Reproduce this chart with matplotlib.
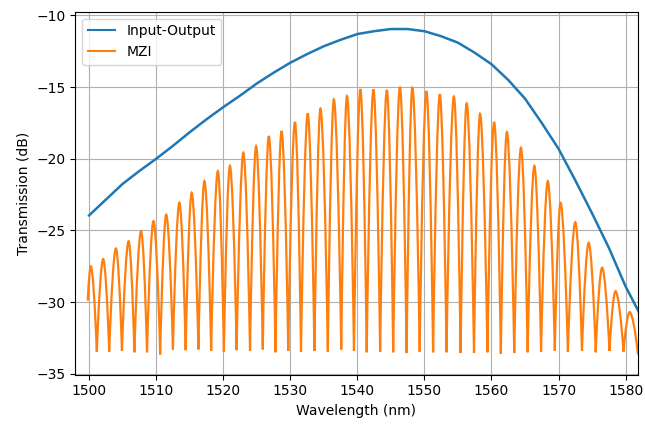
import matplotlib
matplotlib.use("Agg")
import matplotlib.pyplot as plt
from matplotlib.path import Path
from matplotlib.patches import PathPatch
from matplotlib.lines import Line2D

# ---- Input-Output (grating coupler) trace ----
io_wl = [1500, 1502.5, 1505, 1507.5, 1510, 1512.5, 1515, 1517.5, 1520, 1522.5,
         1525, 1527.5, 1530, 1532.5, 1535, 1537.5, 1540, 1542.5, 1545, 1547.5,
         1550, 1552.5, 1555, 1557.5, 1560, 1562.5, 1565, 1567.5, 1570, 1572.5,
         1575, 1577.5, 1580, 1582]
io_db = [-23.95, -22.85, -21.75, -20.85, -20.0, -19.1, -18.15, -17.25, -16.4, -15.6,
         -14.75, -14.0, -13.3, -12.7, -12.15, -11.7, -11.3, -11.1, -10.95, -10.95,
         -11.1, -11.45, -11.9, -12.6, -13.4, -14.5, -15.8, -17.5, -19.3, -21.5,
         -23.8, -26.2, -28.9, -30.7]

# ---- MZI trace: start point, fringe peaks and troughs ----
mzi_start_wl = 1499.8
mzi_start_db = -29.9
peak_wl = [1500.25, 1502.1, 1504.0, 1505.9, 1507.75, 1509.6, 1511.5, 1513.46, 1515.3,
           1517.2, 1519.2, 1521.0, 1523.0, 1524.9, 1526.8, 1528.7, 1530.7, 1532.6,
           1534.5, 1536.5, 1538.45, 1540.45, 1542.4, 1544.4, 1546.35, 1548.2, 1550.3,
           1552.3, 1554.4, 1556.3, 1558.3, 1560.4, 1562.3, 1564.4, 1566.4, 1568.4,
           1570.3, 1572.5, 1574.5, 1576.5, 1578.5, 1580.6]
peak_db = [-27.5, -27.0, -26.26, -25.75, -25.05, -24.35, -23.9, -23.07, -22.37,
           -21.56, -20.87, -20.5, -19.58, -19.12, -18.42, -18.07, -17.44, -16.84,
           -16.5, -15.86, -15.63, -15.14, -15.16, -15.2, -14.98, -15.05, -15.28,
           -15.5, -15.66, -16.14, -16.86, -17.44, -18.14, -19.24, -20.5, -21.56,
           -23.07, -24.42, -25.86, -27.6, -29.24, -30.7]
trough_wl = [1501.15, 1503.0, 1504.9, 1506.75, 1508.64, 1510.6, 1512.5, 1514.4, 1516.3,
             1518.2, 1520.1, 1522.0, 1524.0, 1525.9, 1527.8, 1529.7, 1531.6, 1533.6,
             1535.6, 1537.6, 1539.5, 1541.4, 1543.4, 1545.35, 1547.35, 1549.3, 1551.3,
             1553.3, 1555.4, 1557.4, 1559.4, 1561.4, 1563.4, 1565.4, 1567.4, 1569.45,
             1571.4, 1573.5, 1575.55, 1577.6, 1579.7, 1581.85]
trough_db = [-33.45, -33.45, -33.4, -33.5, -33.5, -33.65, -33.3, -33.35, -33.3,
             -33.4, -33.45, -33.35, -33.4, -33.3, -33.5, -33.4, -33.45, -33.4,
             -33.45, -33.3, -33.4, -33.5, -33.45, -33.5, -33.55, -33.45, -33.5,
             -33.5, -33.55, -33.55, -33.5, -33.6, -33.55, -33.5, -33.45, -33.4,
             -33.45, -33.4, -33.5, -33.4, -33.45, -33.65]

plt.rcParams['font.family'] = ['DejaVu Sans']
fig = plt.figure(figsize=(6.45, 4.24), dpi=100)
ax = fig.add_axes([0.1163, 0.1167, 0.9891 - 0.1163, 0.9724 - 0.1167])

ax.plot(io_wl, io_db, color='C0', lw=1.8, label='Input-Output')

# fringe shape parameters (Bezier control fractions)
p_fr, g_fr, q_fr = 0.3, 0.55, 0.3

def rise(x0, y0, xp, yp):
    dx = xp - x0
    h = yp - y0
    return [(x0 + p_fr * dx, y0 + g_fr * h), (xp - q_fr * dx, yp), (xp, yp)]

def fall(xp, yp, x1, y1):
    dx = x1 - xp
    h = yp - y1
    return [(xp + q_fr * dx, yp), (x1 - p_fr * dx, y1 + g_fr * h), (x1, y1)]

verts = [(mzi_start_wl, mzi_start_db)]
codes = [Path.MOVETO]
verts += rise(mzi_start_wl, mzi_start_db, peak_wl[0], peak_db[0])
codes += [Path.CURVE4] * 3
for i in range(len(peak_wl)):
    verts += fall(peak_wl[i], peak_db[i], trough_wl[i], trough_db[i])
    codes += [Path.CURVE4] * 3
    if i + 1 < len(peak_wl):
        verts += rise(trough_wl[i], trough_db[i], peak_wl[i + 1], peak_db[i + 1])
        codes += [Path.CURVE4] * 3

mzi_patch = PathPatch(Path(verts, codes), facecolor='none', edgecolor='C1',
                      lw=1.6, zorder=2.1)
ax.add_patch(mzi_patch)

ax.set_xlim(1497.9, 1581.85)
ax.set_ylim(-35.05, -9.74)
ax.set_xticks([1500, 1510, 1520, 1530, 1540, 1550, 1560, 1570, 1580])
ax.set_yticks([-35, -30, -25, -20, -15, -10])
ax.grid(True)
ax.set_xlabel('Wavelength (nm)')
ax.set_ylabel('Transmission (dB)')
handles = [Line2D([], [], color='C0', lw=1.5), Line2D([], [], color='C1', lw=1.5)]
ax.legend(handles, ['Input-Output', 'MZI'], loc='upper left')

fig.savefig('out.png', dpi=100)
